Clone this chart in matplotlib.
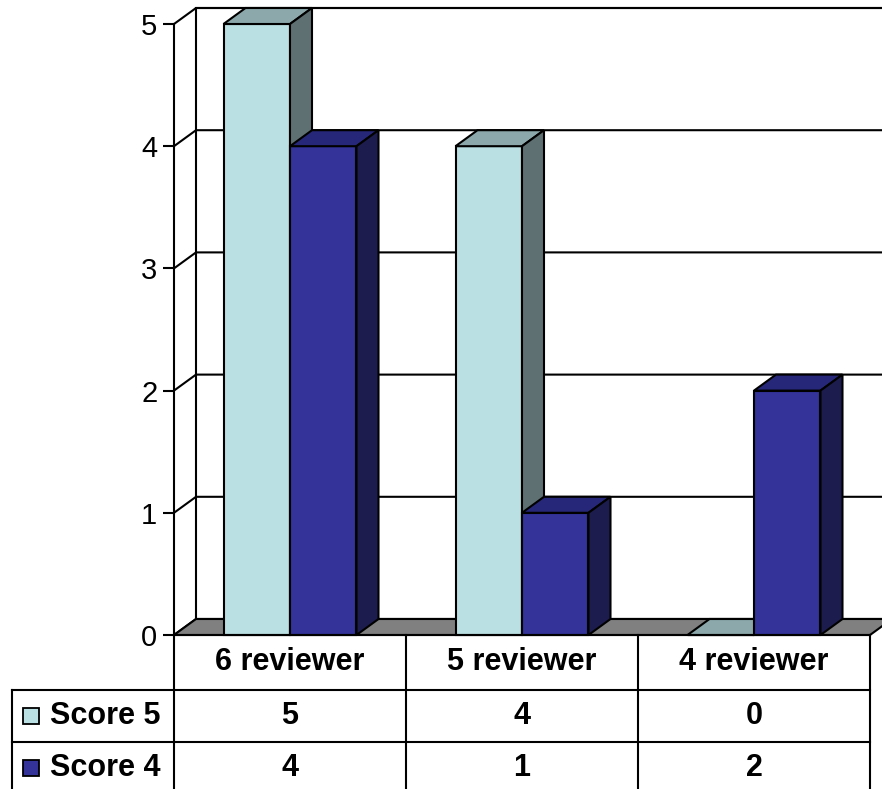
import matplotlib
matplotlib.use("Agg")
from matplotlib import pyplot as plt
from matplotlib.patches import Polygon, Rectangle

plt.rcParams['font.family'] = ['Liberation Sans', 'DejaVu Sans']

categories = ["6 reviewer", "5 reviewer", "4 reviewer"]
series_names = ["Score 5", "Score 4"]
score5 = [5, 4, 0]
score4 = [4, 1, 2]
yticks = [0, 1, 2, 3, 4, 5]

# front, top, side shades for each series
shades = [("#BBE0E3", "#8CA8AA", "#5E7072"),
          ("#333399", "#27277A", "#1C1C4E")]

fig = plt.figure(figsize=(8.82, 7.89), dpi=100)
ax = fig.add_axes([174/882, (789-635)/789, (870-174)/882, (635-24)/789])
ax.set_xlim(-0.5, 2.5)
ax.set_ylim(0, 5)
ax.patch.set_visible(False)
for s in ["top", "right", "bottom"]:
    ax.spines[s].set_visible(False)
LW = 1.5
ax.spines["left"].set_linewidth(LW)
ax.set_xticks([])
ax.set_yticks(yticks)
ax.tick_params(axis="y", length=8, width=LW, pad=4, labelsize=21)

# depth of the 3d box, in data units
DX = 22/232
DY = 16/122.2
RIGHT = 2.5 + DX + 0.3

# back wall
ax.add_patch(Polygon([(-0.5+DX, DY), (RIGHT, DY), (RIGHT, 5+DY), (-0.5+DX, 5+DY)],
                     closed=True, facecolor="white", edgecolor="black", lw=LW,
                     clip_on=False, zorder=0))
for v in yticks:
    ax.plot([-0.5, -0.5+DX, RIGHT], [v, v+DY, v+DY], color="black", lw=LW,
            clip_on=False, zorder=1)

# floor
ax.add_patch(Polygon([(-0.5, 0), (2.5, 0), (2.5+DX, DY), (-0.5+DX, DY)],
                     closed=True, facecolor="#808080", edgecolor="black", lw=LW,
                     clip_on=False, zorder=2))

# bars
bw = 0.2866
z = 3
for i in range(len(categories)):
    for k, vals in enumerate([score5, score4]):
        x0 = i - bw + k*bw
        x1 = x0 + bw
        h = vals[i]
        front, top, side = shades[k]
        ax.add_patch(Rectangle((x0, 0), bw, h, facecolor=front, edgecolor="black",
                               lw=LW, clip_on=False, zorder=z))
        ax.add_patch(Polygon([(x0, h), (x1, h), (x1+DX, h+DY), (x0+DX, h+DY)],
                             closed=True, facecolor=top, edgecolor="black", lw=LW,
                             clip_on=False, zorder=z))
        if h > 0:
            ax.add_patch(Polygon([(x1, 0), (x1+DX, DY), (x1+DX, h+DY), (x1, h)],
                                 closed=True, facecolor=side, edgecolor="black", lw=LW,
                                 clip_on=False, zorder=z))
        z += 1

# data table below the plot
row_h = [55/122.2, 52/122.2, 52/122.2]
y_edges = [0, -row_h[0], -row_h[0]-row_h[1], -sum(row_h)]
left_x = (12-174)/232 - 0.5
tz = 20
fs = 22
for xv in [-0.5, 0.5, 1.5, 2.5]:
    ax.plot([xv, xv], [y_edges[0], y_edges[3]], color="black", lw=LW, clip_on=False, zorder=tz)
ax.plot([left_x, left_x], [y_edges[1], y_edges[3]], color="black", lw=LW, clip_on=False, zorder=tz)
ax.plot([-0.5, 2.5], [0, 0], color="black", lw=LW, clip_on=False, zorder=tz)
for yv in y_edges[1:3]:
    ax.plot([left_x, 2.5], [yv, yv], color="black", lw=LW, clip_on=False, zorder=tz)

for i, c in enumerate(categories):
    ax.text(i, (y_edges[0]+y_edges[1])/2, c, ha="center", va="center",
            fontsize=fs, fontweight="bold", clip_on=False, zorder=tz)

for r, (name, vals) in enumerate(zip(series_names, [score5, score4])):
    yc = (y_edges[r+1]+y_edges[r+2])/2
    ax.plot([(30.5-174)/232 - 0.5], [yc], marker="s", markersize=12,
            markerfacecolor=shades[r][0], markeredgecolor="black", markeredgewidth=1.3,
            linestyle="none", clip_on=False, zorder=tz)
    ax.text((50-174)/232 - 0.5, yc, name, ha="left", va="center",
            fontsize=fs, fontweight="bold", clip_on=False, zorder=tz)
    for i, v in enumerate(vals):
        ax.text(i, yc, str(v), ha="center", va="center",
                fontsize=fs, fontweight="bold", clip_on=False, zorder=tz)

fig.savefig("out.png", dpi=100, facecolor="white")
